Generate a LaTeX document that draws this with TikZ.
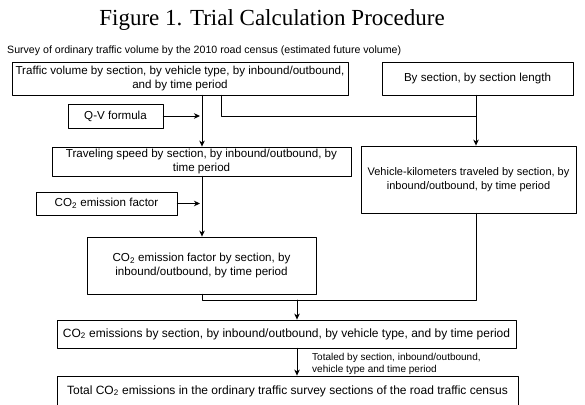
\documentclass[tikz,border=0pt]{standalone}
\usepackage{fontspec}
\setmainfont{Liberation Sans}
\newfontfamily\titlefont{Liberation Serif}
\usetikzlibrary{shadows,arrows.meta}

\begin{document}
\begin{tikzpicture}[x=1pt,y=-1pt,>={Stealth[length=6pt,width=5.5pt,inset=1.8pt]}, font=\fontsize{11.6}{14}\selectfont, line join=round, line cap=round,
	box/.style={draw,line width=0.8pt,fill=white,align=center,inner sep=0pt,
		drop shadow={shadow xshift=1.3pt,shadow yshift=-1.3pt,fill=black!40,opacity=1}},
	link/.style={line width=1pt}]
	\def \xa{202} \def \xb{221} \def \xc{476} \def \xd{297}
	\useasboundingbox (0,0) rectangle (585,404);
	\node[font=\titlefont\fontsize{23}{26}\selectfont] (title) at (272,20) {Figure 1. Trial Calculation Procedure};
	\node[anchor=west,inner sep=0pt,font=\fontsize{10.6}{12}\selectfont] (survey) at (7,51) {Survey of ordinary traffic volume by the 2010 road census (estimated future volume)};
	\node[box,minimum width=336pt,minimum height=33pt] (traffic) at (180,78.5) {Traffic volume by section, by vehicle type, by inbound/outbound,\\and by time period};
	\node[box,minimum width=191pt,minimum height=33pt] (len) at (477.5,78.5) {By section, by section length};
	\node[box,minimum width=95pt,minimum height=24pt] (qv) at (115.5,116) {Q-V formula};
	\node[box,minimum width=299pt,minimum height=29pt] (speed) at (201.5,161.5) {Traveling speed by section, by inbound/outbound, by\\time period};
	\node[box,minimum width=215pt,minimum height=67pt,font=\fontsize{11}{14}\selectfont] (vkt) at (468.5,179.5) {Vehicle-kilometers traveled by section, by\\inbound/outbound, by time period};
	\node[box,minimum width=141pt,minimum height=23pt] (ef) at (106.5,203.5) {CO\textsubscript{2} emission factor};
	\node[box,minimum width=229pt,minimum height=57pt] (efsec) at (201.5,265.5) {CO\textsubscript{2} emission factor by section, by\\inbound/outbound, by time period};
	\node[box,minimum width=459pt,minimum height=28pt,font=\fontsize{12}{14}\selectfont] (emis) at (286.5,334) {CO\textsubscript{2} emissions by section, by inbound/outbound, by vehicle type, and by time period};
	\node[box,minimum width=461pt,minimum height=30pt,font=\fontsize{12}{14}\selectfont] (total) at (287.5,391) {Total CO\textsubscript{2} emissions in the ordinary traffic survey sections of the road traffic census};
	\node[anchor=north west,inner sep=0pt,align=left,font=\fontsize{10}{12}\selectfont] (note) at (312,353.5) {Totaled by section, inbound/outbound,\\vehicle type and time period};
	\coordinate (j1) at (\xc,116);
	\coordinate (j2) at (\xa,300);
	\coordinate (j3) at (\xc,300);
	\coordinate (j4) at (\xd,300);
	\draw[link,->] (traffic.south -| \xa,0) -- (speed.north -| \xa,0);
	\draw[link] (traffic.south -| \xb,0) |- (j1);
	\draw[link,->] (len.south -| \xc,0) -- (vkt.north -| \xc,0);
	\draw[link,->,shorten >=2pt] (qv) -- (qv -| \xa,0);
	\draw[link,->,shorten >=2pt] (ef) -- (ef -| \xa,0);
	\draw[link,->] (speed.south -| \xa,0) -- (efsec.north -| \xa,0);
	\draw[link] (efsec.south -| \xa,0) -- (j2) -- (j3) -- (vkt.south -| \xc,0);
	\draw[link,->] (j4) -- (emis.north -| j4);
	\draw[link,->] (emis.south -| \xd,0) -- (total.north -| \xd,0);
\end{tikzpicture}
\end{document}
